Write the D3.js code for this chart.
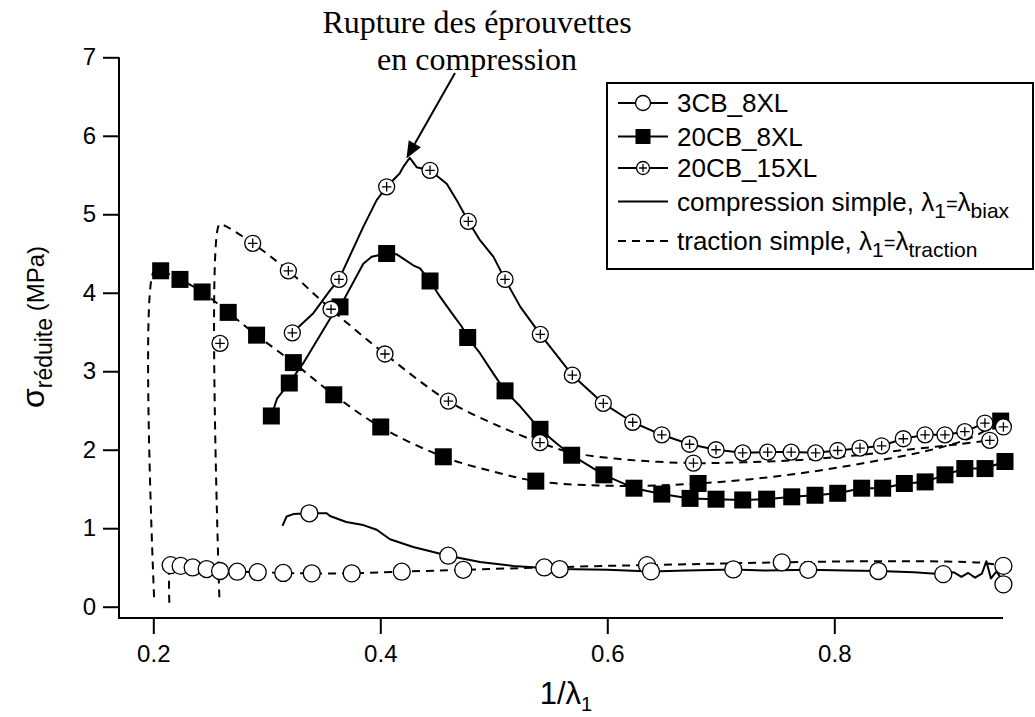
<!DOCTYPE html>
<html><head><meta charset="utf-8">
<script src="https://cdn.jsdelivr.net/npm/d3@7"></script>
<style>body{margin:0;background:#fff}svg{display:block}</style>
</head><body>
<svg id="c" width="1035" height="717"></svg>
<script>
// ---------- tick labels ----------
const xTicks = [0.2, 0.4, 0.6, 0.8];
const yTicks = [0, 1, 2, 3, 4, 5, 6, 7];

// ---------- 20CB_15XL : compression (solid) ----------
const c15_line_x = [0.3225,0.341,0.3557,0.3636,0.385,0.3968,0.4056,0.417,0.421,0.426,0.432,0.4438,0.4585,0.4673,0.4775,0.4878,0.4996,0.5099,0.5234,0.541,0.5692,0.5965,0.6224,0.648,0.6725,0.6958,0.7193,0.7413,0.762,0.7836,0.803,0.8226,0.8417,0.8608,0.88,0.8975,0.915,0.9327,0.949];
const c15_line_y = [3.49,3.74,4.03,4.17,4.84,5.18,5.35,5.52,5.62,5.72,5.60,5.56,5.39,5.18,4.91,4.67,4.46,4.17,3.82,3.47,2.95,2.59,2.35,2.19,2.07,2.00,1.96,1.97,1.97,1.96,1.99,2.02,2.05,2.14,2.19,2.19,2.23,2.34,2.29];
const c15_mk_x = [0.3225,0.3636,0.4056,0.4438,0.4775,0.5099,0.541,0.5692,0.5965,0.6224,0.648,0.6725,0.6958,0.7193,0.7413,0.762,0.7836,0.803,0.8226,0.8417,0.8608,0.88,0.8975,0.915,0.9327,0.949];
const c15_mk_y = [3.49,4.17,5.35,5.56,4.91,4.17,3.47,2.95,2.59,2.35,2.19,2.07,2.00,1.96,1.97,1.97,1.96,1.99,2.02,2.05,2.14,2.19,2.19,2.23,2.34,2.29];

// ---------- 20CB_15XL : traction (dashed) ----------
const t15_line_x = [0.2582,0.2582,0.262,0.2876,0.319,0.3566,0.4041,0.46,0.5,0.5407,0.57,0.62,0.6759,0.72,0.77,0.82,0.87,0.91,0.937];
const t15_line_y = [0.12,4.87,4.86,4.63,4.28,3.79,3.22,2.62,2.33,2.09,1.96,1.87,1.83,1.84,1.87,1.93,2.01,2.07,2.12];
const t15_mk_x = [0.2588,0.2876,0.319,0.3566,0.4041,0.46,0.5407,0.6759,0.937];
const t15_mk_y = [3.355,4.63,4.28,3.79,3.22,2.62,2.09,1.83,2.12];

// ---------- 20CB_8XL : compression (solid) ----------
const c8_line_x = [0.304,0.309,0.3198,0.332,0.3557,0.3645,0.385,0.3924,0.4056,0.4145,0.429,0.435,0.4438,0.4526,0.463,0.4717,0.477,0.4878,0.4996,0.5099,0.5234,0.5407,0.5554,0.5686,0.597,0.6235,0.648,0.6729,0.6958,0.7193,0.7404,0.7625,0.783,0.803,0.8241,0.8426,0.8617,0.88,0.8975,0.915,0.9328,0.9504];
const c8_line_y = [2.43,2.65,2.85,3.10,3.67,3.82,4.37,4.46,4.50,4.49,4.35,4.31,4.15,3.95,3.74,3.57,3.43,3.23,2.97,2.75,2.55,2.26,2.08,1.93,1.68,1.51,1.435,1.38,1.37,1.36,1.37,1.40,1.42,1.445,1.51,1.51,1.57,1.59,1.68,1.76,1.76,1.85];
const c8_mk_x = [0.304,0.3198,0.3645,0.4056,0.4438,0.477,0.5099,0.5407,0.5686,0.597,0.6235,0.648,0.6729,0.6958,0.7193,0.7404,0.7625,0.783,0.803,0.8241,0.8426,0.8617,0.88,0.8975,0.915,0.9328,0.9504];
const c8_mk_y = [2.43,2.85,3.82,4.50,4.15,3.43,2.75,2.26,1.93,1.68,1.51,1.435,1.38,1.37,1.36,1.37,1.40,1.42,1.445,1.51,1.51,1.57,1.59,1.68,1.76,1.76,1.85];

// ---------- 20CB_8XL : traction (dashed) ----------
const t8_line_x = [0.2007,0.2007,0.2065,0.2235,0.243,0.266,0.291,0.3234,0.359,0.4004,0.4555,0.5,0.537,0.58,0.63,0.68,0.73,0.78,0.83,0.88,0.92,0.9466];
const t8_line_y = [0.12,4.28,4.28,4.17,4.01,3.75,3.46,3.11,2.70,2.29,1.91,1.72,1.60,1.55,1.54,1.57,1.63,1.72,1.84,1.98,2.15,2.365];
const t8_mk_x = [0.2065,0.2235,0.243,0.266,0.291,0.3234,0.359,0.4004,0.4555,0.537,0.680,0.9466];
const t8_mk_y = [4.28,4.17,4.01,3.75,3.46,3.11,2.70,2.29,1.91,1.60,1.57,2.365];

// ---------- 3CB_8XL : compression (solid) ----------
const c3_line_x = [0.3138,0.3175,0.3234,0.3375,0.3528,0.3557,0.370,0.385,0.3968,0.4085,0.429,0.4599,0.4878,0.5172,0.558,0.6,0.6385,0.67,0.711,0.74,0.777,0.81,0.8388,0.87,0.896,0.905,0.912,0.918,0.924,0.93,0.934,0.938,0.943,0.946,0.949];
const c3_line_y = [1.03,1.15,1.18,1.19,1.19,1.155,1.08,1.04,0.98,0.86,0.76,0.65,0.57,0.52,0.48,0.47,0.45,0.46,0.475,0.46,0.47,0.46,0.455,0.44,0.415,0.44,0.38,0.43,0.37,0.42,0.58,0.36,0.45,0.38,0.285];
const c3_mk_x = [0.3375,0.4599,0.558,0.6385,0.711,0.777,0.8388,0.896,0.949];
const c3_mk_y = [1.19,0.65,0.48,0.45,0.475,0.47,0.455,0.415,0.285];

// ---------- 3CB_8XL : traction (dashed) ----------
const t3_line_x = [0.2141,0.2141,0.2153,0.2241,0.2347,0.247,0.2588,0.274,0.292,0.3145,0.3396,0.3748,0.4189,0.4731,0.5445,0.6,0.635,0.7,0.7537,0.8,0.85,0.9,0.93,0.949];
const t3_line_y = [0.05,0.45,0.53,0.52,0.50,0.48,0.455,0.446,0.44,0.43,0.425,0.425,0.446,0.47,0.50,0.52,0.53,0.55,0.565,0.575,0.58,0.575,0.56,0.52];
const t3_mk_x = [0.2153,0.2241,0.2347,0.247,0.2588,0.274,0.292,0.3145,0.3396,0.3748,0.4189,0.4731,0.5445,0.635,0.7537,0.949];
const t3_mk_y = [0.53,0.52,0.50,0.48,0.455,0.446,0.44,0.43,0.425,0.425,0.446,0.47,0.50,0.53,0.565,0.52];

// ---------- legend labels ----------
const legendNames = ["3CB_8XL","20CB_8XL","20CB_15XL"];

const svg = d3.select("#c");
const x = d3.scaleLinear().domain([0.2, 0.8]).range([153.3, 834.3]);
const y = d3.scaleLinear().domain([0, 7]).range([606.7, 57.3]);
const AXIS_Y = 618, X_END = 1003, AXIS_X = 119;
const SANS = "'Liberation Sans', Arial, sans-serif";
const SERIF = "'Liberation Serif', 'Times New Roman', serif";

const zip = (a, b) => a.map((v, i) => [v, b[i]]);

// axes
const gx = svg.append("g").attr("transform", `translate(0,${AXIS_Y})`)
  .call(d3.axisBottom(x).tickValues(xTicks).tickSize(16).tickPadding(11).tickFormat(d3.format(".1f")));
gx.select(".domain").remove();
gx.selectAll("line").attr("stroke", "#000").attr("stroke-width", 2);
gx.selectAll("text").attr("font-family", SANS).attr("font-size", 24).attr("fill", "#000");

const gy = svg.append("g").attr("transform", `translate(${AXIS_X},0)`)
  .call(d3.axisLeft(y).tickValues(yTicks).tickSize(16).tickPadding(7).tickFormat(d3.format("d")));
gy.select(".domain").remove();
gy.selectAll("line").attr("stroke", "#000").attr("stroke-width", 2);
gy.selectAll("text").attr("font-family", SANS).attr("font-size", 24).attr("fill", "#000");

svg.append("path").attr("d", `M${AXIS_X},${y(7)}V${AXIS_Y}H${X_END}`)
  .attr("fill", "none").attr("stroke", "#000").attr("stroke-width", 2);

// axis titles
const xt = svg.append("text").attr("x", 566).attr("y", 704).attr("text-anchor", "middle")
  .attr("font-family", SANS).attr("font-size", 31);
xt.append("tspan").text("1/λ");
xt.append("tspan").attr("dy", 7).attr("font-size", 20).text("1");

const yt = svg.append("text").attr("transform", "translate(44,327) rotate(-90)")
  .attr("text-anchor", "middle").attr("font-family", SANS).attr("font-size", 24);
yt.append("tspan").attr("font-size", 32).text("σ");
yt.append("tspan").attr("dy", 8).attr("font-size", 23).text("réduite");
yt.append("tspan").attr("dy", -8).text(" (MPa)");

// lines
const lineLin = d3.line().x(d => x(d[0])).y(d => y(d[1]));
const lineSm = d3.line().x(d => x(d[0])).y(d => y(d[1])).curve(d3.curveCatmullRom.alpha(0.5));
const plot = svg.append("g");
function drawLine(xs, ys, dashed, smooth) {
  plot.append("path").attr("d", (smooth ? lineSm : lineLin)(zip(xs, ys)))
    .attr("fill", "none").attr("stroke", "#000").attr("stroke-width", 2)
    .attr("stroke-linejoin", "round")
    .attr("stroke-dasharray", dashed ? "8,6" : null);
}
drawLine(t8_line_x, t8_line_y, true, true);
drawLine(t15_line_x, t15_line_y, true, true);
drawLine(t3_line_x, t3_line_y, true, true);
drawLine(c8_line_x, c8_line_y, false, false);
drawLine(c15_line_x, c15_line_y, false, false);
drawLine(c3_line_x, c3_line_y, false, false);

// markers
function circleMk(g, cx, cy, r) {
  g.append("circle").attr("cx", cx).attr("cy", cy).attr("r", r)
    .attr("fill", "#fff").attr("stroke", "#000").attr("stroke-width", 1.3);
}
function squareMk(g, cx, cy, s) {
  g.append("rect").attr("x", cx - s / 2).attr("y", cy - s / 2).attr("width", s).attr("height", s).attr("fill", "#000");
}
function plusMk(g, cx, cy, r) {
  circleMk(g, cx, cy, r);
  const h = r * 0.6;
  g.append("path").attr("d", `M${cx - h},${cy}H${cx + h}M${cx},${cy - h}V${cy + h}`)
    .attr("stroke", "#000").attr("stroke-width", 1.3);
}
const mk = svg.append("g");
zip(t3_mk_x, t3_mk_y).forEach(d => circleMk(mk, x(d[0]), y(d[1]), 8.5));
zip(c3_mk_x, c3_mk_y).forEach(d => circleMk(mk, x(d[0]), y(d[1]), 8.5));
zip(t8_mk_x, t8_mk_y).forEach(d => squareMk(mk, x(d[0]), y(d[1]), 17));
zip(c8_mk_x, c8_mk_y).forEach(d => squareMk(mk, x(d[0]), y(d[1]), 17));
zip(t15_mk_x, t15_mk_y).forEach(d => plusMk(mk, x(d[0]), y(d[1]), 8));
zip(c15_mk_x, c15_mk_y).forEach(d => plusMk(mk, x(d[0]), y(d[1]), 8));

// annotation
const ann = svg.append("text").attr("text-anchor", "middle").attr("font-family", SERIF).attr("font-size", 32);
ann.append("tspan").attr("x", 477).attr("y", 33).text("Rupture des éprouvettes");
ann.append("tspan").attr("x", 477).attr("y", 70).text("en compression");
const ax0 = 455, ay0 = 73, ax1 = x(0.423), ay1 = y(5.71);
const ang = Math.atan2(ay1 - ay0, ax1 - ax0);
const hl = 17, hw = 7;
const bx = ax1 - hl * Math.cos(ang), by = ay1 - hl * Math.sin(ang);
svg.append("line").attr("x1", ax0).attr("y1", ay0).attr("x2", bx).attr("y2", by)
  .attr("stroke", "#000").attr("stroke-width", 2);
svg.append("path").attr("d",
  `M${ax1},${ay1}L${bx + hw * Math.sin(ang)},${by - hw * Math.cos(ang)}L${bx - hw * Math.sin(ang)},${by + hw * Math.cos(ang)}Z`)
  .attr("fill", "#000");

// legend
const lg = svg.append("g");
lg.append("rect").attr("x", 607).attr("y", 83).attr("width", 426).attr("height", 186)
  .attr("fill", "#fff").attr("stroke", "#000").attr("stroke-width", 2);
const rowsY = [103, 136.5, 168, 201.5, 241];
const lx0 = 618, lx1 = 668, lmid = 643, tx = 677;
rowsY.forEach((ry, i) => {
  lg.append("path").attr("d", `M${lx0},${ry}H${lx1}`).attr("stroke", "#000").attr("stroke-width", 2)
    .attr("stroke-dasharray", i === 4 ? "8,6" : null);
});
circleMk(lg, lmid, rowsY[0], 7.5);
squareMk(lg, lmid, rowsY[1], 15);
plusMk(lg, lmid, rowsY[2], 6.5);
legendNames.forEach((n, i) => {
  lg.append("text").attr("x", tx).attr("y", rowsY[i] + 9).attr("font-family", SANS).attr("font-size", 26).text(n);
});
function modelLabel(row, main, sub) {
  const t = lg.append("text").attr("x", tx).attr("y", rowsY[row] + 9).attr("font-family", SANS).attr("font-size", 26);
  t.append("tspan").text(main + "λ");
  t.append("tspan").attr("dy", 7).attr("font-size", 21).text("1");
  t.append("tspan").attr("dy", -7).attr("font-size", 20).text("=");
  t.append("tspan").text("λ");
  t.append("tspan").attr("dy", 7).attr("font-size", 21).text(sub);
}
modelLabel(3, "compression simple, ", "biax");
modelLabel(4, "traction simple, ", "traction");
</script>
</body></html>
